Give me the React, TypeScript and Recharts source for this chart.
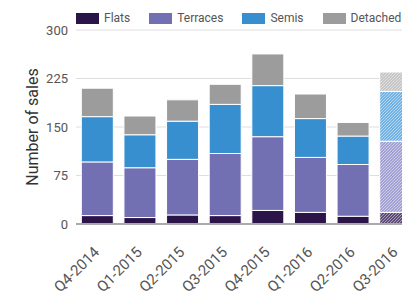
import React from "react"
import { BarChart, Bar, XAxis, YAxis, CartesianGrid, Cell } from "recharts"

const quarters = ["Q4-2014", "Q1-2015", "Q2-2015", "Q3-2015", "Q4-2015", "Q1-2016", "Q2-2016", "Q3-2016"]
const flats = [13, 10, 14, 13, 21, 18, 12, 18]
const terraces = [83, 77, 86, 96, 114, 85, 80, 110]
const semis = [70, 51, 59, 76, 79, 60, 44, 77]
const detached = [44, 29, 33, 31, 49, 38, 21, 30]
const yTicks = [0, 75, 150, 225, 300]

// last quarter is provisional -> hatched
const provisionalIndex = 7

const series = [
  { key: "flats", name: "Flats", color: "#2b1548", light: "#5e4d78" },
  { key: "terraces", name: "Terraces", color: "#7270b2", light: "#a4a2d4" },
  { key: "semis", name: "Semis", color: "#378fcf", light: "#72b3e3" },
  { key: "detached", name: "Detached", color: "#9c9c9c", light: "#c6c6c6" },
]

const data = quarters.map((q, i) => ({
  quarter: q,
  flats: flats[i],
  terraces: terraces[i],
  semis: semis[i],
  detached: detached[i],
}))

const font = "Roboto, sans-serif"

const XTick = (props: any) => {
  const { x, y, payload } = props
  return (
    <g transform={`translate(${x + 3},${y + 21})`}>
      <text x={0} y={0} textAnchor="end" fill="#555" fontSize={15} fontFamily={font} transform="rotate(-45)">
        {payload.value}
      </text>
    </g>
  )
}

export default function App() {
  return (
    <div style={{ position: "relative", width: 402, height: 283, overflow: "hidden", fontFamily: font }}>
      <svg width={0} height={0} style={{ position: "absolute" }}>
        <defs>
          {series.map((s) => (
            <pattern key={s.key} id={`hatch-${s.key}`} patternUnits="userSpaceOnUse" width={3} height={3}>
              <rect width={3} height={3} fill={s.light} />
              <path d="M0,3 L3,0 M-1,1 L1,-1 M2,4 L4,2" stroke="#fff" strokeOpacity={0.45} strokeWidth={1} />
            </pattern>
          ))}
        </defs>
      </svg>
      <div
        style={{
          position: "absolute",
          top: 3,
          left: 68,
          width: "max-content",
          display: "flex",
          alignItems: "center",
          whiteSpace: "nowrap",
          fontSize: 12,
          color: "#555",
          zIndex: 2,
        }}
      >
        {series.map((s) => (
          <span key={s.key} style={{ display: "flex", alignItems: "center", marginRight: 19, flexShrink: 0 }}>
            <span style={{ display: "inline-block", width: 23, height: 11, background: s.color, marginRight: 5 }} />
            {s.name}
          </span>
        ))}
      </div>
      <BarChart
        width={420}
        height={283}
        data={data}
        margin={{ top: 22, right: 11, left: 0, bottom: 0 }}
        barCategoryGap="12.5%"
      >
        <CartesianGrid vertical={false} stroke="#dedede" />
        <XAxis
          dataKey="quarter"
          interval={0}
          height={67}
          tick={<XTick />}
          tickLine={false}
          axisLine={{ stroke: "#aaa", strokeWidth: 2 }}
        />
        <YAxis
          width={68}
          domain={[0, 300]}
          ticks={yTicks}
          axisLine={false}
          tickLine={false}
          tick={{ fill: "#555", fontSize: 13, fontFamily: font }}
          label={{
            value: "Number of sales",
            angle: -90,
            position: "insideLeft",
            offset: 24,
            style: { textAnchor: "middle", fill: "#333", fontSize: 16, fontFamily: font },
          }}
        />
        {series.map((s) => (
          <Bar key={s.key} dataKey={s.key} name={s.name} stackId="a" fill={s.color} stroke="#fff" strokeWidth={1} isAnimationActive={false}>
            {data.map((d, i) => (
              <Cell key={d.quarter} fill={i === provisionalIndex ? `url(#hatch-${s.key})` : s.color} />
            ))}
          </Bar>
        ))}
      </BarChart>
    </div>
  )
}
